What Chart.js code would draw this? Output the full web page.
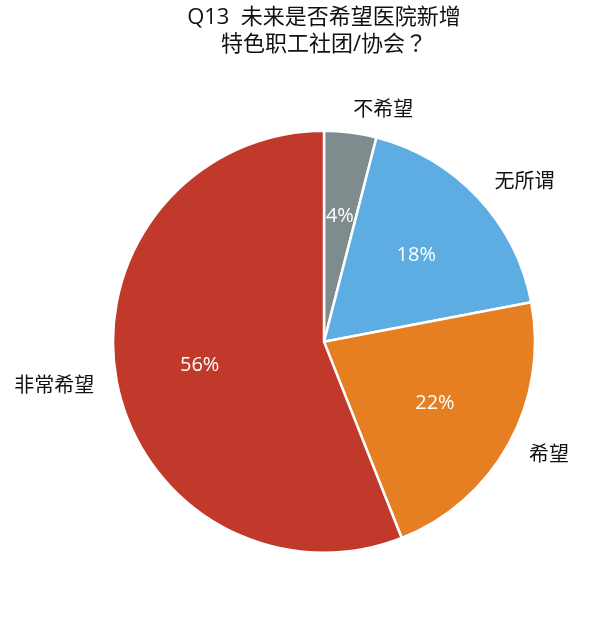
<!DOCTYPE html>
<html>
<head>
<meta charset="utf-8">
<script src="https://cdn.jsdelivr.net/npm/chart.js@4"></script>
<style>
@font-face {
  font-family: 'QMark';
  src: local('Noto Sans CJK TC Regular'), local('NotoSansCJKtc-Regular'), local('Noto Sans CJK TC');
  unicode-range: U+FF1F;
}
html,body{margin:0;padding:0;background:#fff;}
#wrap{width:600px;height:619px;}
</style>
</head>
<body>
<div id="wrap"><canvas id="c" width="600" height="619"></canvas></div>
<script>
const categories = ['不希望', '无所谓', '希望', '非常希望'];
const values = [4, 18, 22, 56];
const colors = ['#7F8C8D', '#5DADE2', '#E67E22', '#C0392B'];
const titleLines = ['Q13  未来是否希望医院新增', '特色职工社团/协会？'];

const FONT = 'QMark, "Open Sans", "Noto Sans CJK SC", sans-serif';

const labelPlugin = {
  id: 'pieLabels',
  afterDatasetsDraw(chart) {
    const ctx = chart.ctx;
    const meta = chart.getDatasetMeta(0);
    const total = values.reduce((a, b) => a + b, 0);
    meta.data.forEach((arc, i) => {
      const {x, y, startAngle, endAngle, outerRadius} = arc.getProps(['x','y','startAngle','endAngle','outerRadius'], true);
      const mid = (startAngle + endAngle) / 2;
      const cos = Math.cos(mid), sin = Math.sin(mid);
      ctx.save();
      ctx.font = '20px ' + FONT;
      ctx.fillStyle = '#ffffff';
      ctx.textAlign = 'center';
      ctx.textBaseline = 'middle';
      const r1 = outerRadius * 0.6;
      ctx.fillText(Math.round(values[i] / total * 100) + '%', x + cos * r1, y + sin * r1);
      const r2 = outerRadius + 23;
      ctx.fillStyle = '#111111';
      ctx.textAlign = cos >= 0 ? 'left' : 'right';
      ctx.fillText(categories[i], x + cos * r2, y + sin * r2 + 1);
      ctx.restore();
    });
  }
};

function draw() {
  new Chart(document.getElementById('c'), {
    type: 'pie',
    data: {
      labels: categories,
      datasets: [{
        data: values,
        backgroundColor: colors,
        borderColor: '#ffffff',
        borderWidth: 2.5
      }]
    },
    options: {
      responsive: false,
      animation: false,
      radius: 211,
      layout: { padding: { left: 113, right: 65, top: 0, bottom: 66 } },
      plugins: {
        legend: { display: false },
        tooltip: { enabled: false },
        title: {
          display: true,
          text: titleLines,
          color: '#111111',
          font: { family: FONT, size: 22, weight: 'normal', lineHeight: 1.22 },
          padding: { top: 4, bottom: 73 }
        }
      }
    },
    plugins: [labelPlugin]
  });
}

document.fonts.load('22px QMark', '？').then(draw, draw);
</script>
</body>
</html>
